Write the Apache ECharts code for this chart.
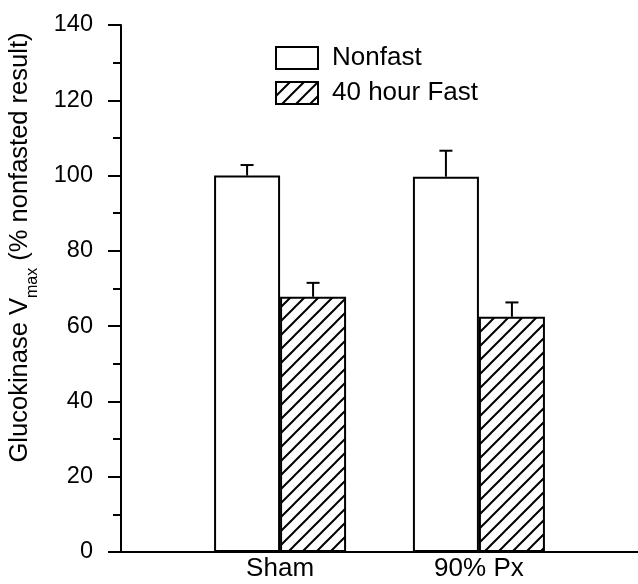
<!DOCTYPE html>
<html>
<head>
<meta charset="utf-8">
<script src="https://cdn.jsdelivr.net/npm/echarts@6/dist/echarts.min.js"></script>
<style>
html,body{margin:0;padding:0;background:#fff;}
#chart{width:638px;height:584px;}
</style>
</head>
<body>
<div id="chart"></div>
<script>
// groups on the x axis (placed at 1 and 2)
var groups = ['Sham', '90% Px'];
var groupPos = [1, 2];
var nonfast = [100, 99.7];
var nonfastErr = [2.8, 6.9];
var fast = [67.8, 62.5];
var fastErr = [3.7, 3.8];

var FONT = '"Liberation Sans", Arial, Helvetica, sans-serif';
var BAR_W = 66;

// hatch pattern for the fasted bars
function makeHatch(){
  var s = 14;
  var c = document.createElement('canvas');
  c.width = s; c.height = s;
  var g = c.getContext('2d');
  g.fillStyle = '#fff';
  g.fillRect(0, 0, s, s);
  g.strokeStyle = '#000';
  g.lineWidth = 2;
  g.beginPath();
  g.moveTo(0, s); g.lineTo(s, 0);
  g.moveTo(-2, 2); g.lineTo(2, -2);
  g.moveTo(s - 2, s + 2); g.lineTo(s + 2, s - 2);
  g.stroke();
  return c;
}
var hatch = {image: makeHatch(), repeat: 'repeat'};

function pairs(vals){
  var out = [];
  for (var i = 0; i < vals.length; i++) out.push([groupPos[i], vals[i]]);
  return out;
}
function errData(vals, errs, side){
  var out = [];
  for (var i = 0; i < vals.length; i++) out.push([groupPos[i], vals[i], vals[i] + errs[i], side]);
  return out;
}

function renderErr(params, api){
  var x = api.value(0);
  var top = api.coord([x, api.value(1)]);
  var cap = api.coord([x, api.value(2)]);
  var cx = top[0] + api.value(3) * BAR_W / 2;
  var st = {stroke: '#000', lineWidth: 2};
  return {
    type: 'group',
    children: [
      {type: 'line', shape: {x1: cx, y1: top[1], x2: cx, y2: cap[1]}, style: st},
      {type: 'line', shape: {x1: cx - 6.5, y1: cap[1], x2: cx + 6.5, y2: cap[1]}, style: st}
    ]
  };
}

var chart = echarts.init(document.getElementById('chart'));
chart.setOption({
  backgroundColor: '#fff',
  animation: false,
  textStyle: {fontFamily: FONT, color: '#000'},
  grid: {left: 121, top: 25, right: 0, bottom: 32, containLabel: false, outerBoundsMode: 'none'},
  legend: {
    orient: 'vertical',
    left: 275,
    top: 45,
    padding: 0,
    itemWidth: 42,
    itemHeight: 22,
    itemGap: 9,
    icon: 'rect',
    data: ['Nonfast', '40 hour Fast'],
    textStyle: {fontSize: 26, fontFamily: FONT, color: '#000', lineHeight: 22, padding: [0, 0, 0, 9]}
  },
  xAxis: {
    type: 'value',
    min: 0.2,
    max: 2.8,
    splitLine: {show: false},
    axisTick: {show: false},
    axisLine: {show: true, onZero: false, lineStyle: {color: '#000', width: 2}},
    axisLabel: {
      customValues: groupPos,
      fontSize: 26,
      fontFamily: FONT,
      color: '#000',
      margin: 4,
      formatter: function(v){
        var i = groupPos.indexOf(v);
        return i >= 0 ? groups[i] : '';
      }
    }
  },
  yAxis: {
    type: 'value',
    min: 0,
    max: 140,
    interval: 20,
    splitLine: {show: false},
    axisLine: {show: true, lineStyle: {color: '#000', width: 2}},
    axisTick: {show: true, length: 13, lineStyle: {color: '#000', width: 2}},
    minorTick: {show: true, splitNumber: 2, length: 8, lineStyle: {color: '#000', width: 2}},
    axisLabel: {fontSize: 23.5, fontFamily: FONT, color: '#000', margin: 28},
    name: 'Glucokinase V{sub|max} (% nonfasted result)',
    nameLocation: 'middle',
    nameGap: 80,
    nameTextStyle: {
      fontSize: 25.5,
      fontFamily: FONT,
      color: '#000',
      padding: [0, 0, 0, 82],
      rich: {
        sub: {fontSize: 16, fontFamily: FONT, color: '#000', verticalAlign: 'bottom', padding: [26, 0, 0, 0]}
      }
    }
  },
  series: [
    {
      name: 'Nonfast',
      type: 'bar',
      barWidth: BAR_W,
      barGap: '0%',
      data: pairs(nonfast),
      itemStyle: {color: '#fff', borderColor: '#000', borderWidth: 2}
    },
    {
      name: '40 hour Fast',
      type: 'bar',
      barWidth: BAR_W,
      barGap: '0%',
      data: pairs(fast),
      itemStyle: {color: hatch, borderColor: '#000', borderWidth: 2}
    },
    {
      type: 'custom',
      renderItem: renderErr,
      data: errData(nonfast, nonfastErr, -1),
      z: 5
    },
    {
      type: 'custom',
      renderItem: renderErr,
      data: errData(fast, fastErr, 1),
      z: 5
    }
  ]
});
</script>
</body>
</html>
